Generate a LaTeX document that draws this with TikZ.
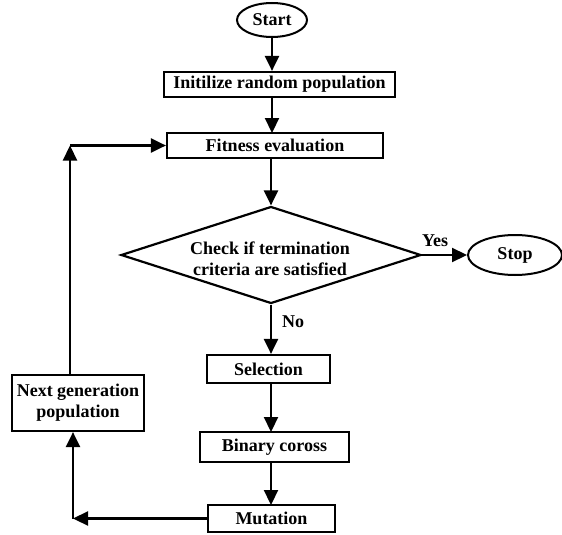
\documentclass[tikz,border=0pt]{standalone}
\usepackage{fontspec}
\setmainfont{Liberation Serif}
\usetikzlibrary{shapes.geometric,arrows.meta}
\begin{document}
\begin{tikzpicture}[x=1pt,y=-1pt,
  every node/.style={font=\fontsize{18}{21}\selectfont\bfseries},
  box/.style={draw,line width=2.2pt,rectangle,inner sep=0pt,align=center},
  term/.style={draw,line width=2pt,ellipse,inner sep=0pt},
  dec/.style={draw,line width=2.2pt,diamond,inner sep=0pt,minimum width=300pt,minimum height=97pt},
  conn/.style={line width=2.2pt,-{Triangle[length=15pt,width=14pt]}}]
\useasboundingbox (0,0) rectangle (562,535);
\node[term,minimum width=70pt,minimum height=34pt] (start) at (272,20) {Start};
\node[box,minimum width=231pt,minimum height=25pt] (init) at (279.5,84.5) {Initilize random population};
\node[box,minimum width=216pt,minimum height=25pt] (fit) at (275,145.5) {Fitness evaluation};
\node[dec] (chk) at (271,255) {};
\node[align=center] (chktext) at (270,259) {Check if termination\\criteria are satisfied};
\node[term,minimum width=94pt,minimum height=40pt] (stop) at (515,255) {Stop};
\node[box,minimum width=123pt,minimum height=28pt] (sel) at (268.5,369) {Selection};
\node[box,minimum width=149pt,minimum height=30pt] (bin) at (274.5,447) {Binary coross};
\node[box,minimum width=127pt,minimum height=27pt] (mut) at (271.5,518.5) {Mutation};
\node[box,minimum width=132pt,minimum height=56pt] (next) at (78,403) {Next generation\\population};
\node (yes) at (435,241) {Yes};
\node (no) at (293,322) {No};
\coordinate (ctop) at (70,145.5);
\coordinate (cbot) at (73,518.5);
\draw[conn] (start.south) -- (start.south |- init.north);
\draw[conn] (272,97) -- (272,133);
\draw[conn] (chk.north |- fit.south) -- (chk.north);
\draw[conn] (chk.east) -- (stop.west);
\draw[conn] (chk.south) -- (chk.south |- sel.north);
\draw[conn] (271,383) -- (271,432);
\draw[conn] (271,462) -- (271,505);
\draw[conn] (mut.west) -- (cbot);
\draw[conn] (cbot) -- (cbot |- next.south);
\draw[conn] (ctop |- next.north) -- (ctop);
\draw[conn] (ctop) -- (fit.west);
\end{tikzpicture}
\end{document}
